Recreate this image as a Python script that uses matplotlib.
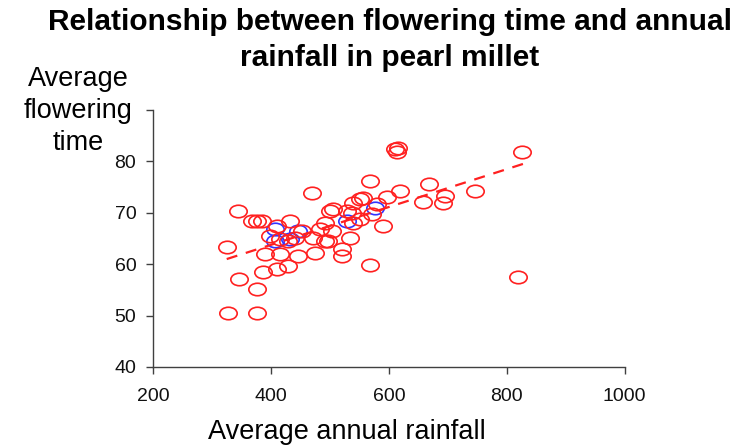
import matplotlib
matplotlib.use("Agg")
import matplotlib.pyplot as plt
from matplotlib.path import Path
from matplotlib.transforms import Affine2D

plt.rcParams['font.family'] = ['Liberation Sans', 'DejaVu Sans']

# Red series: (rainfall, flowering time)
red_x = [327, 376, 325, 346, 376, 344, 368, 376, 385, 386, 410, 429, 390, 415, 446,
         475, 497, 410, 432, 453, 398, 415, 429, 441, 470, 483, 503, 471, 492, 500,
         505, 492, 520, 520, 534, 539, 551, 556, 537, 539, 551, 580, 568, 568, 590,
         597, 619, 610, 614, 615, 658, 668, 692, 695, 746, 819, 825, 571, 529]
red_y = [50.6, 50.6, 63.4, 57.2, 55.1, 70.3, 68.4, 68.4, 68.4, 58.4, 59.1, 59.7, 62.0,
         62.0, 61.6, 62.2, 64.5, 67.4, 68.4, 66.5, 65.5, 64.9, 64.5, 65.1, 73.8, 66.9,
         66.5, 65.1, 64.5, 70.3, 70.7, 68.0, 63.0, 61.6, 65.1, 71.9, 72.7, 72.9, 70.0,
         68.0, 68.8, 71.7, 76.1, 59.9, 67.4, 73.0, 74.2, 82.5, 81.9, 82.7, 72.1, 75.7,
         71.9, 73.2, 74.2, 57.6, 81.9, 69.8, 70.3]

# Blue series (mostly hidden behind red)
blue_x = [407, 407, 446, 432, 529, 576]
blue_y = [66.9, 64.5, 66.5, 64.9, 68.4, 70.9]

# Linear trend line
trend_x = [325, 830]
trend_y = [61.0, 79.6]

x_ticks = [200, 400, 600, 800, 1000]
y_ticks = [40, 50, 60, 70, 80]

fig = plt.figure(figsize=(7.5, 4.45), dpi=100)
ax = fig.add_axes([0.204, 0.1753, 0.629, 0.5775])

ellipse = Path.unit_circle().transformed(Affine2D().scale(1.0, 0.72))

ax.plot(blue_x, blue_y, linestyle='none', marker=ellipse, markersize=12.5,
        markerfacecolor='none', markeredgecolor='#3333ff', markeredgewidth=1.2, zorder=2)
ax.plot(red_x, red_y, linestyle='none', marker=ellipse, markersize=12.5,
        markerfacecolor='none', markeredgecolor='#ff2020', markeredgewidth=1.2, zorder=3)
ax.plot(trend_x, trend_y, linestyle=(0, (5, 4)), color='#ff2020', linewidth=1.6, zorder=4)

ax.set_xlim(200, 1000)
ax.set_ylim(40, 90)
ax.set_xticks(x_ticks)
ax.set_yticks(y_ticks + [90])
ax.set_yticklabels([str(v) for v in y_ticks] + [''])
ax.set_xticklabels([str(v) for v in x_ticks])

for s in ['top', 'right']:
    ax.spines[s].set_visible(False)
for s in ['left', 'bottom']:
    ax.spines[s].set_color('#404040')
    ax.spines[s].set_linewidth(1.0)
ax.tick_params(axis='both', direction='out', length=5, width=1.0, color='#404040',
               labelsize=14, labelcolor='#111111')
ax.tick_params(axis='x', pad=10)
ax.tick_params(axis='y', pad=7)

fig.text(0.52, 0.982, 'Relationship between flowering time and annual\nrainfall in pearl millet',
         ha='center', va='top', fontsize=21.5, fontweight='bold', linespacing=1.38)
fig.text(0.104, 0.852, 'Average\nflowering\ntime', ha='center', va='top', fontsize=19.5,
         linespacing=1.3)
fig.text(0.463, 0.029, 'Average annual rainfall', ha='center', va='center', fontsize=19.5)

fig.savefig('out.png', dpi=100)
